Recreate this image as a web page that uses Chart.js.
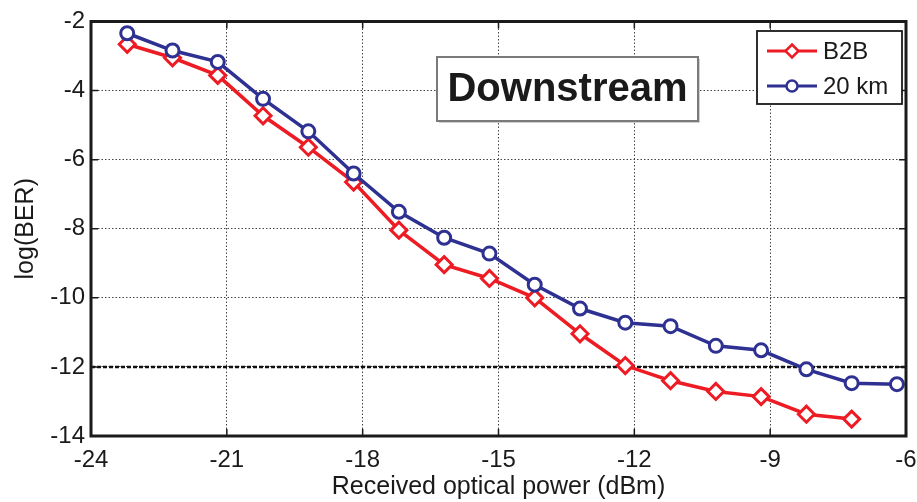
<!DOCTYPE html>
<html>
<head>
<meta charset="utf-8">
<title>Downstream BER</title>
<script src="https://cdn.jsdelivr.net/npm/chart.js@4/dist/chart.umd.min.js"></script>
<style>
  html, body { margin: 0; padding: 0; background: #ffffff; }
  #wrap { width: 917px; height: 502px; }
</style>
</head>
<body>
<div id="wrap"><canvas id="c" width="917" height="502"></canvas></div>
<script>
// Received optical power (dBm) for each measurement
const powerB2B = [-23.2, -22.2, -21.2, -20.2, -19.2, -18.2, -17.2, -16.2, -15.2, -14.2, -13.2, -12.2, -11.2, -10.2, -9.2, -8.2, -7.2];
const power20km = [-23.2, -22.2, -21.2, -20.2, -19.2, -18.2, -17.2, -16.2, -15.2, -14.2, -13.2, -12.2, -11.2, -10.2, -9.2, -8.2, -7.2, -6.2];

// log10(BER) measured values
const berB2B = [-2.66, -3.05, -3.56, -4.73, -5.64, -6.65, -8.04, -9.04, -9.44, -10.0, -11.04, -11.96, -12.40, -12.71, -12.86, -13.37, -13.51];
const ber20km = [-2.34, -2.84, -3.17, -4.24, -5.18, -6.40, -7.51, -8.26, -8.72, -9.62, -10.31, -10.72, -10.82, -11.39, -11.52, -12.07, -12.47, -12.50];

const seriesNames = ['B2B', '20 km'];
const thresholdLevel = -12;          // FEC limit in log(BER)
const xTicks = [-24, -21, -18, -15, -12, -9, -6];
const yTicks = [-14, -12, -10, -8, -6, -4, -2];
const panelTitle = 'Downstream';
const xTitle = 'Received optical power (dBm)';
const yTitle = 'log(BER)';

const RED = '#ed1c24';
const BLUE = '#2e3192';
const FONT = "'Liberation Sans', Arial, Helvetica, sans-serif";

const toPoints = (xs, ys) => xs.map((x, i) => ({ x: x, y: ys[i] }));

// Box frame with inward tick marks on all four sides
const framePlugin = {
  id: 'frame',
  afterDraw(chart) {
    const { ctx, chartArea: a, scales } = chart;
    ctx.save();
    ctx.strokeStyle = '#1a1a1a';
    ctx.lineWidth = 1.5;
    const tl = 7;
    ctx.beginPath();
    xTicks.forEach(v => {
      const px = scales.x.getPixelForValue(v);
      ctx.moveTo(px, a.bottom); ctx.lineTo(px, a.bottom - tl);
      ctx.moveTo(px, a.top); ctx.lineTo(px, a.top + tl);
    });
    yTicks.forEach(v => {
      const py = scales.y.getPixelForValue(v);
      ctx.moveTo(a.left, py); ctx.lineTo(a.left + tl, py);
      ctx.moveTo(a.right, py); ctx.lineTo(a.right - tl, py);
    });
    ctx.stroke();
    ctx.lineWidth = 3;
    ctx.strokeRect(a.left, a.top, a.right - a.left, a.bottom - a.top);
    ctx.restore();
  }
};

// Title box inside the plot and the legend box in the top-right corner
const annotationPlugin = {
  id: 'annotations',
  afterDraw(chart) {
    const { ctx } = chart;
    ctx.save();
    // "Downstream" label box
    const bx = 437, by = 57, bw = 261, bh = 64;
    ctx.fillStyle = 'rgba(0,0,0,0.18)';
    ctx.fillRect(bx + 2, by + 2, bw, bh);
    ctx.fillStyle = '#ffffff';
    ctx.fillRect(bx, by, bw, bh);
    ctx.strokeStyle = '#7a7a7a';
    ctx.lineWidth = 2;
    ctx.strokeRect(bx, by, bw, bh);
    ctx.fillStyle = '#1a1a1a';
    ctx.font = 'bold 40px ' + FONT;
    ctx.textAlign = 'center';
    ctx.textBaseline = 'middle';
    ctx.fillText(panelTitle, bx + bw / 2, by + bh / 2 + 1);

    // Legend
    const lx = 757, ly = 31, lw = 145, lh = 73;
    ctx.fillStyle = '#ffffff';
    ctx.fillRect(lx, ly, lw, lh);
    ctx.strokeStyle = '#1a1a1a';
    ctx.lineWidth = 1.8;
    ctx.strokeRect(lx, ly, lw, lh);
    const rows = [ly + 20, ly + 55];
    chart.data.datasets.slice(0, 2).forEach((ds, i) => {
      const y = rows[i];
      ctx.strokeStyle = ds.borderColor;
      ctx.lineWidth = 3;
      ctx.beginPath();
      ctx.moveTo(lx + 10, y); ctx.lineTo(lx + 60, y);
      ctx.stroke();
      ctx.fillStyle = '#ffffff';
      ctx.lineWidth = 2.5;
      ctx.beginPath();
      if (ds.pointStyle === 'rectRot') {
        const r = 6.5;
        ctx.moveTo(lx + 35, y - r); ctx.lineTo(lx + 35 + r, y);
        ctx.lineTo(lx + 35, y + r); ctx.lineTo(lx + 35 - r, y); ctx.closePath();
      } else {
        ctx.arc(lx + 35, y, 5.5, 0, Math.PI * 2);
      }
      ctx.fill();
      ctx.stroke();
      ctx.fillStyle = '#1a1a1a';
      ctx.font = '24px ' + FONT;
      ctx.textAlign = 'left';
      ctx.textBaseline = 'middle';
      ctx.fillText(ds.label, lx + 66, y + 1);
    });
    ctx.restore();
  }
};

new Chart(document.getElementById('c'), {
  type: 'line',
  data: {
    datasets: [
      {
        label: seriesNames[0],
        data: toPoints(powerB2B, berB2B),
        borderColor: RED,
        backgroundColor: '#ffffff',
        borderWidth: 3.5,
        pointStyle: 'rectRot',
        pointRadius: 8,
        pointBorderWidth: 3,
        pointBackgroundColor: '#ffffff',
        pointBorderColor: RED,
        tension: 0,
        order: 2
      },
      {
        label: seriesNames[1],
        data: toPoints(power20km, ber20km),
        borderColor: BLUE,
        backgroundColor: '#ffffff',
        borderWidth: 3.5,
        pointStyle: 'circle',
        pointRadius: 6.5,
        pointBorderWidth: 3,
        pointBackgroundColor: '#ffffff',
        pointBorderColor: BLUE,
        tension: 0,
        order: 1
      },
      {
        label: 'FEC limit',
        data: [{ x: xTicks[0], y: thresholdLevel }, { x: xTicks[xTicks.length - 1], y: thresholdLevel }],
        borderColor: '#111111',
        borderWidth: 2.5,
        borderDash: [4, 2],
        pointRadius: 0,
        order: 3
      }
    ]
  },
  options: {
    responsive: false,
    animation: false,
    devicePixelRatio: 1,
    layout: { padding: { top: 21.5, right: 9, left: 0, bottom: 0 } },
    plugins: {
      legend: { display: false },
      tooltip: { enabled: false }
    },
    scales: {
      x: {
        type: 'linear',
        min: xTicks[0],
        max: xTicks[xTicks.length - 1],
        afterBuildTicks: s => { s.ticks = xTicks.map(v => ({ value: v })); },
        afterFit: s => { s.height = 66; s.paddingLeft = 0; s.paddingRight = 0; },
        ticks: {
          color: '#1a1a1a',
          font: { family: FONT, size: 24 },
          padding: 10,
          maxRotation: 0,
          autoSkip: false
        },
        grid: { color: '#444444', lineWidth: 1, drawTicks: false },
        border: { display: false, dash: [1.5, 2] },
        title: {
          display: true,
          text: xTitle,
          color: '#1a1a1a',
          font: { family: FONT, size: 25 },
          padding: { top: 0, bottom: 0 }
        }
      },
      y: {
        type: 'linear',
        min: yTicks[0],
        max: yTicks[yTicks.length - 1],
        afterBuildTicks: s => { s.ticks = yTicks.map(v => ({ value: v })); },
        afterFit: s => { s.width = 91; s.paddingTop = 0; s.paddingBottom = 0; },
        ticks: {
          color: '#1a1a1a',
          font: { family: FONT, size: 24 },
          padding: 6,
          autoSkip: false
        },
        grid: { color: '#444444', lineWidth: 1, drawTicks: false },
        border: { display: false, dash: [1.5, 2] },
        title: {
          display: true,
          text: yTitle,
          color: '#1a1a1a',
          font: { family: FONT, size: 25 },
          padding: { top: 11, bottom: 0 }
        }
      }
    }
  },
  plugins: [framePlugin, annotationPlugin]
});
</script>
</body>
</html>
